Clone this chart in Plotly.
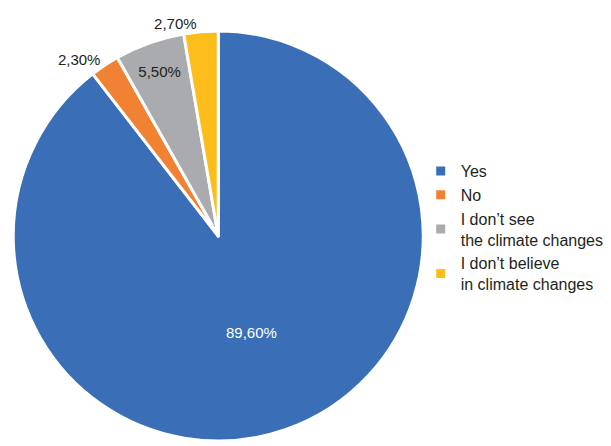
import plotly.graph_objects as go

labels = ["Yes", "No", "I don’t see<br>the climate changes", "I don’t believe<br>in climate changes"]
values = [89.6, 2.3, 5.5, 2.7]
text_labels = ["89,60%", "2,30%", "5,50%", "2,70%"]
colors = ["#3A6FB8", "#F18133", "#AAABAE", "#FDBD1A"]
text_positions = ["inside", "outside", "inside", "outside"]
text_colors = ["#FFFFFF", "#231F20", "#231F20", "#231F20"]

FONT = "Liberation Sans, Arial, sans-serif"

fig = go.Figure(go.Pie(
    labels=labels,
    values=values,
    text=text_labels,
    textinfo="text",
    texttemplate="%{text}",
    textposition=text_positions,
    insidetextorientation="horizontal",
    sort=False,
    direction="clockwise",
    rotation=0,
    marker=dict(colors=colors, line=dict(color="white", width=3)),
    outsidetextfont=dict(family=FONT, size=15, color="#231F20"),
    insidetextfont=dict(family=FONT, size=15, color=text_colors),
    domain=dict(x=[4/611, 426/611], y=[0, 1]),
    hoverinfo="label+text",
))

fig.update_layout(
    width=611, height=446,
    margin=dict(l=0, r=0, t=31, b=0),
    paper_bgcolor="white",
    plot_bgcolor="white",
    showlegend=True,
    legend=dict(
        x=0.686, y=0.700, xanchor="left", yanchor="top",
        font=dict(family=FONT, size=16, color="#231F20"),
        tracegroupgap=0,
        itemwidth=30,
        bgcolor="rgba(0,0,0,0)",
    ),
    font=dict(family=FONT),
)

fig.write_html("out.html")
